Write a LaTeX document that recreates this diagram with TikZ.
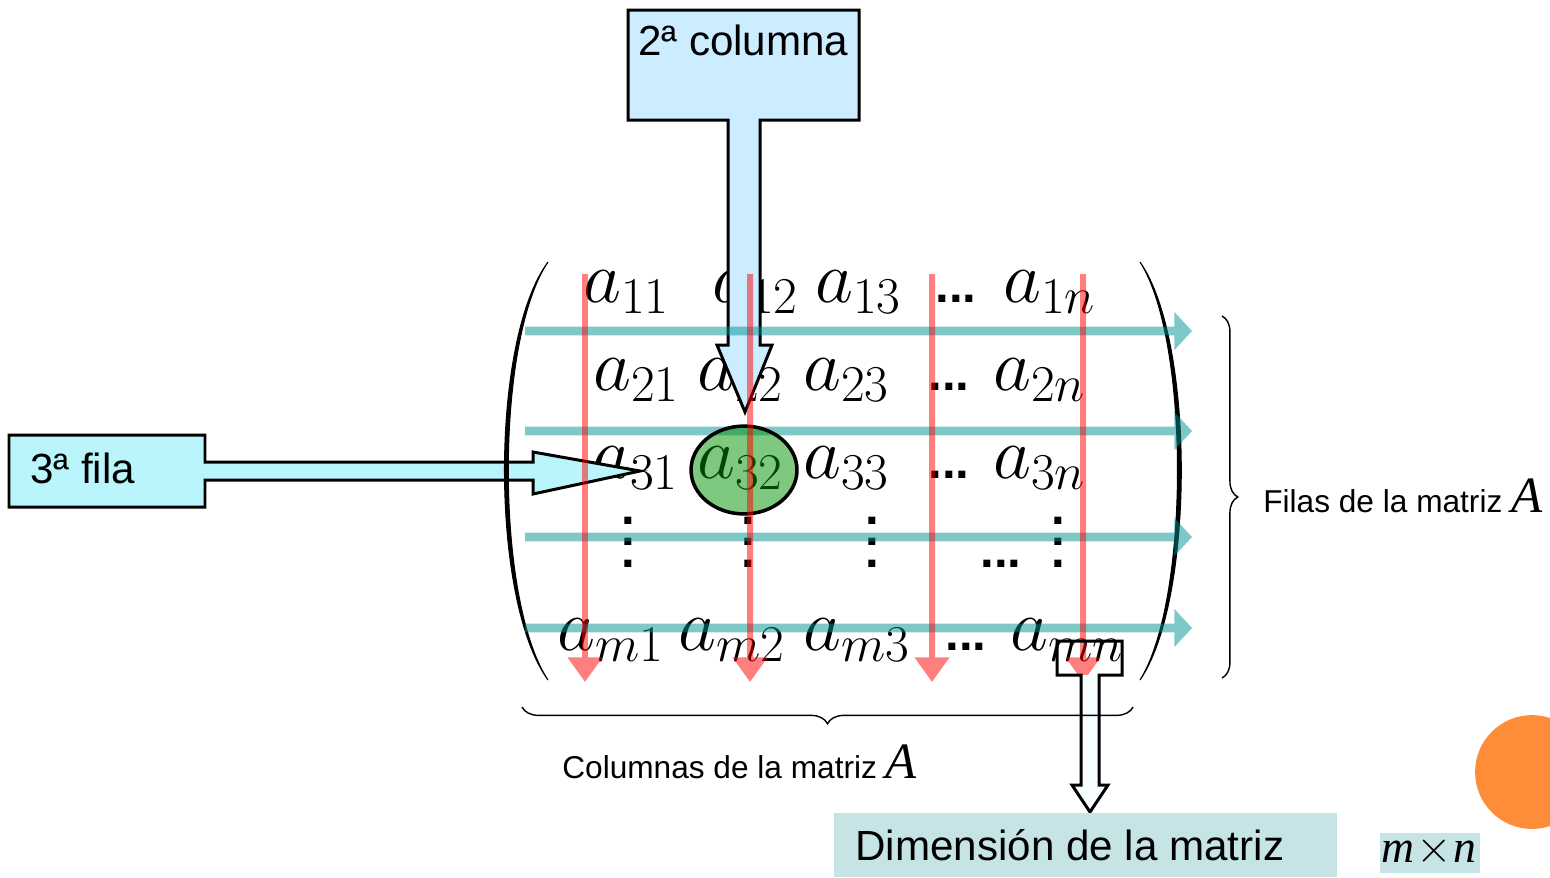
\RequirePackage{fix-cm}
\documentclass[tikz,border=0pt]{standalone}
\usepackage{fontspec}
\setmainfont{Liberation Sans}
\newfontfamily\serifA{Liberation Serif}
\usetikzlibrary{arrows.meta,decorations.pathreplacing,shapes.geometric,positioning}

\definecolor{colblue}{RGB}{204,236,255}
\definecolor{filacyan}{RGB}{185,245,250}
\definecolor{dimbox}{RGB}{198,228,230}
\definecolor{rowteal}{RGB}{0,145,145}
\definecolor{colred}{RGB}{255,0,0}
\definecolor{selgreen}{RGB}{0,145,0}
\definecolor{dotorange}{RGB}{255,140,56}

\newcommand{\tallvdots}{\vbox{\baselineskip=12pt\lineskiplimit=-20pt\hbox{.}\hbox{.}\hbox{.}}}

\tikzset{
 entry/.style={anchor=base west, inner sep=0pt, font=\fontsize{42}{42}\selectfont},
 hdots/.style={anchor=base west, inner sep=0pt, font=\fontsize{28}{28}\selectfont\bfseries},
 vdotsnode/.style={anchor=base, inner sep=0pt, font=\fontsize{28}{28}\selectfont\bfseries},
 callout/.style={draw=black, line width=1.7pt, line join=miter},
 rowarrow/.style={draw=rowteal, line width=5pt, -{Triangle[width=21pt,length=10pt]}},
 colarrow/.style={draw=colred, line width=3.4pt, -{Triangle[width=19pt,length=14pt]}},
 label/.style={anchor=base west, inner sep=0pt, font=\fontsize{24}{28}\selectfont},
 note/.style={anchor=base west, inner sep=0pt, font=\fontsize{18}{22}\selectfont},
}

\begin{document}
\begin{tikzpicture}[x=0.02cm, y=-0.02cm]
 \clip (0,0) rectangle (1550,877);
 % matrix entries
 \foreach \nm/\x/\y/\t in {11/583/302/a_{11}, 12/712/302/a_{12}, 13/815/302/a_{13}, 1n/1003/302/a_{1n},
   21/593/390/a_{21}, 22/697/390/a_{22}, 23/803/390/a_{23}, 2n/993/390/a_{2n},
   31/592/478/a_{31}, 32/697/478/a_{32}, 33/803/478/a_{33}, 3n/993/478/a_{3n},
   m1/557/650/a_{m1}, m2/678/650/a_{m2}, m3/803/650/a_{m3}, mn/1010/650/a_{mn}}
   \node[entry] (e\nm) at (\x,\y) {$\t$};
 \foreach \nm/\x/\y in {1/935/302, 2/928/390, 3/928/478, 4/980/567, 5/945/650}
   \node[hdots] (h\nm) at (\x,\y) {...};
 \foreach \nm/\x in {1/628, 2/748, 3/872, 4/1058}
   \node[vdotsnode] (v\nm) at (\x,567) {\tallvdots};

 % callouts
 \draw[callout, fill=colblue] (628,10) -- (859,10) -- (859,120) -- (760,120) -- (760,345) -- (772,345)
   -- (745,412) -- (717,345) -- (728,345) -- (728,120) -- (628,120) -- cycle;
 \node[label] (colname) at (638,55) {2ª columna};
 \draw[callout, fill=filacyan] (9,435) -- (205,435) -- (205,462) -- (533,462) -- (533,452)
   -- (640,471) -- (533,494) -- (533,480) -- (205,480) -- (205,507) -- (9,507) -- cycle;
 \node[label] (filaname) at (30,483) {3ª fila};

 % parentheses
 \filldraw[line width=.6pt] (548,262) .. controls (490,340) and (490,600) .. (548,680)
   .. controls (495,600) and (495,340) .. (548,262);
 \filldraw[line width=.6pt] (1140,262) .. controls (1195,340) and (1195,600) .. (1140,680)
   .. controls (1190,600) and (1190,340) .. (1140,262);

 % rows and columns
 \foreach \i/\y in {1/331, 2/431, 3/537, 4/628} {
   \coordinate (r\i w) at (525,\y);
   \coordinate (r\i e) at (1192,\y);
   \begin{scope}[transparency group, opacity=.5]
     \draw[rowarrow] (r\i w) -- (r\i e);
   \end{scope}
 }
 \node[ellipse, draw, line width=2pt, fill=selgreen, fill opacity=.5,
   minimum width=60.3pt, minimum height=50pt] (sel) at (744,470) {};
 \foreach \i/\x in {1/585, 2/750, 3/932, 4/1083} {
   \coordinate (c\i n) at (\x,274);
   \coordinate (c\i s) at (\x,682);
   \begin{scope}[transparency group, opacity=.5]
     \draw[colarrow] (c\i n) -- (c\i s);
   \end{scope}
 }

 % dimension callout
 \fill[cyan!3] (1099,675) -- (1099,785) -- (1108,785) -- (1090,812) -- (1072,785) -- (1081,785) -- (1081,675) -- cycle;
 \draw[callout] (1057,641) -- (1122,641) -- (1122,675) -- (1099,675)
   -- (1099,785) -- (1108,785) -- (1090,812) -- (1072,785) -- (1081,785) -- (1081,675) -- (1057,675) -- cycle;

 % braces
 \draw[line width=.8pt, decorate, decoration={brace, amplitude=9.5pt}] (1133,707) -- (522,707);
 \draw[line width=.8pt, decorate, decoration={brace, amplitude=9pt}] (1222,316) -- (1222,678);
 \node[note] (rows) at (1263,512) {Filas de la matriz {\serifA\itshape\fontsize{29}{29}\selectfont A}};
 \node[note] (cols) at (562,778) {Columnas de la matriz {\serifA\itshape\fontsize{29}{29}\selectfont A}};

 % boxes below
 \fill[dimbox] (834,813) rectangle (1337,877);
 \node[label] (dim) at (855,860) {Dimensión de la matriz};
 \fill[dimbox] (1380,833) rectangle (1480,873);
 \node[anchor=base, inner sep=0pt, font=\serifA\fontsize{26}{26}\selectfont] (size) at (1429,862)
   {\textit{m}\kern1pt$\times$\kern1pt\textit{n}};
 \fill[dotorange] (1532,772) circle [radius=32.4pt];
\end{tikzpicture}
\end{document}
